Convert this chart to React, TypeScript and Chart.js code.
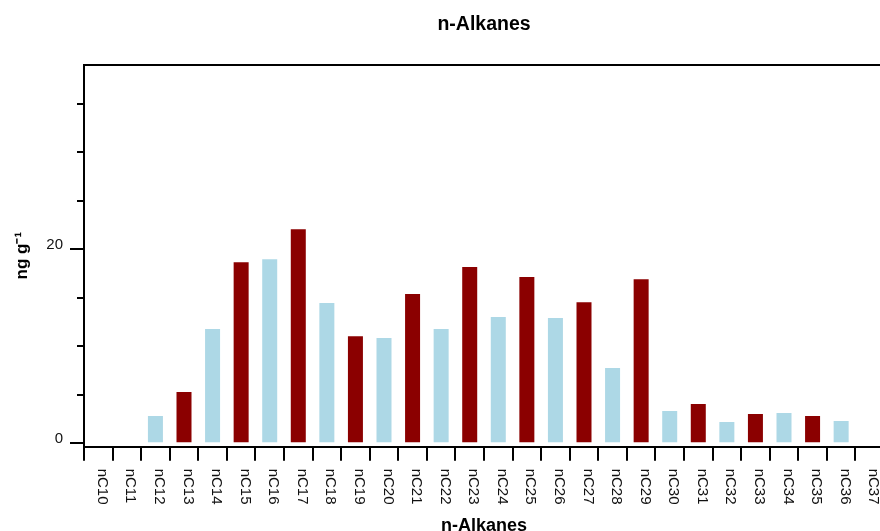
import React, { useEffect, useRef } from "react";
import { Chart, registerables } from "chart.js";

Chart.register(...registerables);

const categories = [
  "nC10", "nC11", "nC12", "nC13", "nC14", "nC15", "nC16", "nC17", "nC18", "nC19",
  "nC20", "nC21", "nC22", "nC23", "nC24", "nC25", "nC26", "nC27", "nC28", "nC29",
  "nC30", "nC31", "nC32", "nC33", "nC34", "nC35", "nC36", "nC37",
];
const carbonNumbers = categories.map((c) => parseInt(c.slice(2), 10));
const concentrations = [
  0, 0, 2.81, 5.28, 11.77, 18.66, 18.97, 22.06, 14.44, 11.04,
  10.84, 15.37, 11.77, 18.15, 13.0, 17.12, 12.9, 14.54, 7.75, 16.91,
  3.32, 4.05, 2.19, 3.02, 3.12, 2.81, 2.3, 0,
];
const yTickValues = [0, 5, 10, 15, 20, 25, 30, 35];
const yLabelledTicks = [0, 20];

const ODD_COLOR = "#8B0000";
const EVEN_COLOR = "#ADD8E6";
const FONT = '"Liberation Sans", Arial, Helvetica, sans-serif';

const customAxisPlugin = {
  id: "customAxis",
  afterDraw(chart: any) {
    const ctx = chart.ctx;
    const xs = chart.scales.x;
    const ys = chart.scales.y;
    const left = chart.chartArea.left;
    ctx.save();
    // minor y ticks
    ctx.strokeStyle = "#000";
    ctx.lineWidth = 2;
    yTickValues.forEach((v) => {
      if (yLabelledTicks.includes(v)) return;
      const py = Math.round(ys.getPixelForValue(v));
      ctx.beginPath();
      ctx.moveTo(left - 7, py);
      ctx.lineTo(left, py);
      ctx.stroke();
    });
    // rotated x labels (reading top to bottom)
    ctx.fillStyle = "#111";
    ctx.font = "15px " + FONT;
    ctx.textAlign = "left";
    ctx.textBaseline = "alphabetic";
    const top = xs.top + 22;
    categories.forEach((label, i) => {
      const px = xs.getPixelForValue(i);
      ctx.save();
      ctx.translate(px - 0.5, top);
      ctx.rotate(Math.PI / 2);
      ctx.fillText(label, 0, 0);
      ctx.restore();
    });
    ctx.restore();
  },
};

export default function App() {
  const canvasRef = useRef<HTMLCanvasElement | null>(null);

  useEffect(() => {
    if (!canvasRef.current) return;
    Chart.defaults.font.family = FONT;
    const chart = new Chart(canvasRef.current, {
      type: "bar",
      data: {
        labels: categories,
        datasets: [
          {
            label: "n-Alkanes",
            data: concentrations,
            backgroundColor: (c: any) =>
              carbonNumbers[c.dataIndex] % 2 === 1 ? ODD_COLOR : EVEN_COLOR,
            borderWidth: 0,
            barPercentage: 0.525,
            categoryPercentage: 1,
          },
        ],
      },
      options: {
        responsive: false,
        animation: false,
        devicePixelRatio: 1,
        layout: { padding: { left: 0, right: 16, top: 0, bottom: 0 } },
        plugins: {
          legend: { display: false },
          tooltip: { enabled: false },
          title: {
            display: true,
            text: "n-Alkanes",
            fullSize: false,
            color: "#000",
            font: { size: 19.5, weight: "bold", family: FONT },
            padding: { top: 12.8, bottom: 28.5 },
          },
        },
        scales: {
          x: {
            type: "category",
            position: "bottom",
            offset: true,
            grid: {
              display: true,
              offset: true,
              drawOnChartArea: false,
              drawTicks: true,
              tickLength: 14,
              color: "#000",
              lineWidth: 2,
            },
            border: { display: true, color: "#000", width: 2 },
            ticks: { display: false },
            title: {
              display: true,
              text: "n-Alkanes",
              color: "#000",
              font: { size: 18, weight: "bold", family: FONT },
              padding: { top: 0, bottom: 3.2 },
            },
            afterFit: (s: any) => {
              s.height = 93.3;
            },
          },
          x2: {
            type: "category",
            position: "top",
            offset: true,
            grid: { display: false, drawTicks: false, drawOnChartArea: false },
            border: { display: true, color: "#000", width: 2 },
            ticks: { display: false },
            afterFit: (s: any) => {
              s.height = 0;
            },
          },
          y: {
            type: "linear",
            position: "left",
            min: -0.35,
            max: 39,
            afterBuildTicks: (s: any) => {
              s.ticks = yTickValues.map((v) => ({ value: v }));
            },
            grid: {
              display: true,
              drawOnChartArea: false,
              drawTicks: true,
              tickLength: 14,
              lineWidth: 2,
              color: "#000",
              tickColor: (c: any) =>
                c.tick && yLabelledTicks.includes(c.tick.value) ? "#000" : "rgba(0,0,0,0)",
            },
            border: { display: true, color: "#000", width: 2 },
            ticks: {
              color: "#111",
              font: { size: 15, family: FONT },
              padding: 7,
              labelOffset: -4.5,
              autoSkip: false,
              callback: (v: any) => (yLabelledTicks.includes(Number(v)) ? String(v) : ""),
            },
            title: {
              display: true,
              text: "ng g\u207B\u00B9",
              color: "#000",
              font: { size: 17, weight: "bold", family: FONT },
              padding: { top: 12, bottom: 0 },
            },
            afterFit: (s: any) => {
              s.width = 84;
            },
          },
        },
      },
      plugins: [customAxisPlugin],
    });
    return () => chart.destroy();
  }, []);

  return (
    <div
      style={{
        position: "fixed",
        left: 0,
        top: 0,
        width: 880,
        height: 531,
        overflow: "hidden",
        background: "#fff",
      }}
    >
      <canvas ref={canvasRef} width={900} height={540} style={{ display: "block" }} />
    </div>
  );
}
